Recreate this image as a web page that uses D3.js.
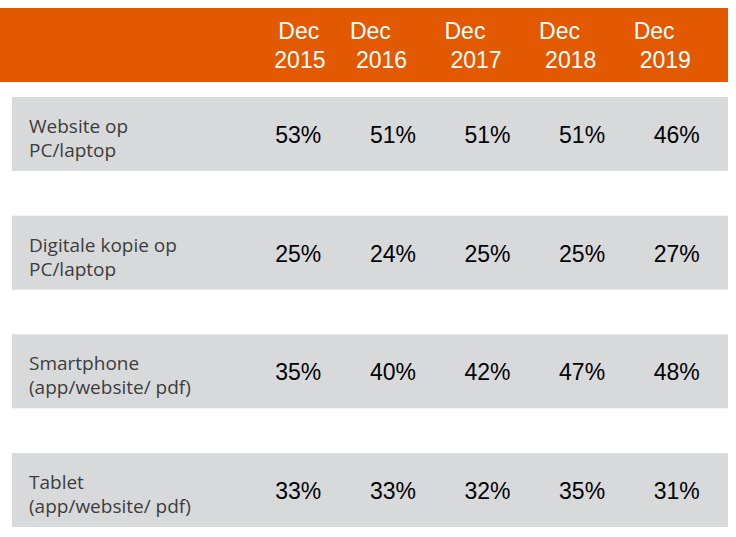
<!DOCTYPE html>
<html>
<head>
<meta charset="utf-8">
<script src="https://cdn.jsdelivr.net/npm/d3@7"></script>
<style>
  body { margin: 0; background: #fff; }
</style>
</head>
<body>
<div id="chart"></div>
<script>
const years = ["2015", "2016", "2017", "2018", "2019"]
const rowLabels = [
  ["Website op", "PC/laptop"],
  ["Digitale kopie op", "PC/laptop"],
  ["Smartphone", "(app/website/ pdf)"],
  ["Tablet", "(app/website/ pdf)"],
]
const websitePc = [53, 51, 51, 51, 46]
const digitalePc = [25, 24, 25, 25, 27]
const smartphone = [35, 40, 42, 47, 48]
const tablet = [33, 33, 32, 35, 31]
const values = [websitePc, digitalePc, smartphone, tablet]

const width = 736
const height = 537

const svg = d3
  .select("#chart")
  .append("svg")
  .attr("width", width)
  .attr("height", height)

const x = d3.scaleBand().domain(years).range([251, 724])
const y = d3
  .scaleBand()
  .domain(d3.range(rowLabels.length))
  .range([97, 527])
  .paddingInner(0.377)

// header bar
svg.append("rect").attr("x", 0).attr("y", 8).attr("width", 728).attr("height", 74).attr("fill", "#e35900")

const head = svg
  .append("g")
  .selectAll("text")
  .data(years)
  .enter()
  .append("text")
  .attr("font-family", "Liberation Sans, Arial, sans-serif")
  .attr("font-size", 23)
  .attr("fill", "#fff")
  .attr("text-anchor", "start")

head
  .append("tspan")
  .attr("x", (d, i) => x(d) + x.bandwidth() / 2 - (i == 0 ? 20 : 43))
  .attr("y", 39)
  .text("Dec")
head
  .append("tspan")
  .attr("x", (d, i) => x(d) + x.bandwidth() / 2 - (i == 0 ? 24 : 37))
  .attr("y", 68)
  .text((d) => d)

// rows
const rows = svg
  .append("g")
  .selectAll("g")
  .data(rowLabels)
  .enter()
  .append("g")
  .attr("transform", (d, i) => `translate(0,${y(i)})`)

rows
  .append("rect")
  .attr("x", 12)
  .attr("width", 716)
  .attr("height", y.bandwidth())
  .attr("fill", "#d8d9db")

const label = rows
  .append("text")
  .attr("font-family", "Open Sans, sans-serif")
  .attr("font-size", 19)
  .attr("fill", "#3d3d3d")

label
  .selectAll("tspan")
  .data((d) => d)
  .enter()
  .append("tspan")
  .attr("x", 29)
  .attr("y", (d, i) => 36 + i * 24)
  .text((d) => d)

rows
  .selectAll(".val")
  .data((d, i) => values[i])
  .enter()
  .append("text")
  .attr("class", "val")
  .attr("x", (d, i) => x(years[i]) + x.bandwidth() / 2)
  .attr("y", 46)
  .attr("text-anchor", "middle")
  .attr("font-family", "Liberation Sans, Arial, sans-serif")
  .attr("font-size", 23)
  .attr("fill", "#000")
  .text((d) => d + "%")
</script>
</body>
</html>
